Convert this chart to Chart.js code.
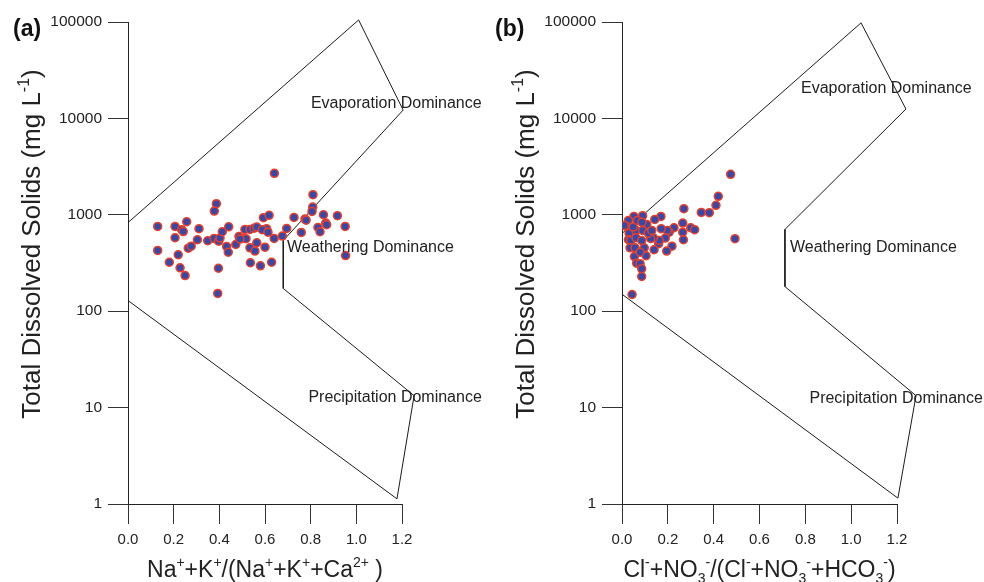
<!DOCTYPE html>
<html><head><meta charset="utf-8">
<script src="https://cdn.jsdelivr.net/npm/chart.js@4.4.1/dist/chart.umd.min.js"></script>
<style>
html,body{margin:0;padding:0;background:#fff;}
#wrap{position:relative;width:984px;height:582px;overflow:hidden;}
canvas{position:absolute;top:0;}
</style></head><body>
<div id="wrap">
<canvas id="ca" width="492" height="582" style="left:0"></canvas>
<canvas id="cb" width="492" height="582" style="left:492px"></canvas>
</div>
<script>
// ---- data ----
const yTicks = [1, 10, 100, 1000, 10000, 100000];
const xTicks = [0, 0.2, 0.4, 0.6, 0.8, 1.0, 1.2];

// (a) Na+K/(Na+K+Ca) vs TDS
const naRatio = [0.130,0.130,0.181,0.206,0.206,0.220,0.228,0.250,0.235,0.242,0.257,0.264,0.277,0.311,0.304,0.349,0.377,0.387,0.378,0.397,0.403,0.413,0.441,0.396,0.393,0.432,0.439,0.472,0.486,0.502,0.517,0.512,0.534,0.552,0.564,0.534,0.556,0.564,0.600,0.536,0.580,0.629,0.593,0.618,0.607,0.588,0.613,0.640,0.641,0.676,0.695,0.727,0.759,0.775,0.780,0.810,0.809,0.806,0.856,0.832,0.841,0.866,0.870,0.917,0.951,0.953,0.490];
const tdsA    = [757,427,322,757,578,385,282,234,700,670,847,451,473,717,551,538,569,1303,1093,533,573,667,751,279,153,470,410,492,597,569,565,705,705,727,745,455,420,513,462,318,296,322,933,987,717,700,661,569,2692,601,722,940,656,903,880,1618,1202,1084,1001,740,667,820,789,978,757,378,560];

// (b) Cl+NO3/(Cl+NO3+HCO3) vs TDS
const clRatio = [0.474,0.420,0.410,0.493,0.346,0.381,0.270,0.265,0.300,0.317,0.265,0.268,0.227,0.206,0.198,0.189,0.218,0.195,0.170,0.143,0.171,0.160,0.140,0.163,0.137,0.125,0.116,0.108,0.090,0.052,0.028,0.035,0.020,0.031,0.028,0.038,0.035,0.057,0.054,0.064,0.079,0.086,0.086,0.105,0.097,0.079,0.061,0.061,0.086,0.090,0.115,0.130,0.049,0.067,0.087,0.044,0.010];
const tdsB    = [2630,1553,1253,565,1059,1051,1156,820,734,700,661,551,734,661,689,573,473,420,962,895,717,501,434,542,578,569,700,794,978,962,875,734,757,645,551,542,455,455,369,315,311,275,229,376,455,410,689,578,542,689,645,689,745,875,839,149,776];

// Gibbs boundary envelopes
const boundAx = [0, 1.01, 1.205, 0.68, 0.68, 1.253, 1.178, 0];
const boundAy = [830, 105000, 12200, 542, 172, 13.3, 1.13, 129];
const boundBx = [0, 1.043, 1.239, 0.711, 0.711, 1.283, 1.204, 0];
const boundBy = [640, 98000, 12500, 705, 180, 13.3, 1.15, 150];

// region labels: [text, x, y(baseline)] in data units
const regionsA = [["Evaporation Dominance", 0.801, 12820], ["Weathering Dominance", 0.696, 411], ["Precipitation Dominance", 0.790, 11.4]];
const regionsB = [["Evaporation Dominance", 0.781, 18300], ["Weathering Dominance", 0.733, 411], ["Precipitation Dominance", 0.818, 11.2]];

const FONT = '"Liberation Sans", Arial, Helvetica, sans-serif';
const yTitle = [["Total Dissolved Solids (mg L",0],["-1",1],[")",0]];
const xTitleA = [["Na",0],["+",1],["+K",0],["+",1],["/(Na",0],["+",1],["+K",0],["+",1],["+Ca",0],["2+",1],[" )",0]];
const xTitleB = [["Cl",0],["-",1],["+NO",0],["3",-1],["-",1],["/(Cl",0],["-",1],["+NO",0],["3",-1],["-",1],["+HCO",0],["3",-1],["-",1],[")",0]];

function partFont(size, mode){ return (mode===0? size : Math.round(size*0.62)) + 'px ' + FONT; }
function richWidth(ctx, parts, size){
  let w=0; for(const [t,m] of parts){ ctx.font=partFont(size,m); w+=ctx.measureText(t).width; } return w;
}
function drawRich(ctx, parts, x, y, size){
  let cx=x;
  ctx.textBaseline='alphabetic'; ctx.textAlign='left';
  for(const [t,m] of parts){
    ctx.font=partFont(size,m);
    const dy = m===1 ? -size*0.42 : (m===-1 ? size*0.28 : 0);
    ctx.fillText(t, cx, y+dy);
    cx += ctx.measureText(t).width;
  }
}

function makeChart(id, xs, ys, bx, by, regions, xTitle, panel, areaLeft, areaRight, panelX){
  const pts = xs.map((v,i)=>({x:v, y:ys[i]}));
  const bnd = bx.map((v,i)=>({x:v, y:by[i]}));
  const W=492, H=582, top=22, bottom=504;
  const deco = {
    id:'deco'+id,
    afterDraw(chart){
      const ctx=chart.ctx, a=chart.chartArea, xs_=chart.scales.x, ys_=chart.scales.y;
      ctx.save();
      ctx.fillStyle='#222';
      ctx.font='16px '+FONT; ctx.textBaseline='alphabetic'; ctx.textAlign='left';
      for(const [t,x,y] of regions){ ctx.fillText(t, xs_.getPixelForValue(x), ys_.getPixelForValue(y)); }
      ctx.fillStyle='#111';
      ctx.font='bold 23px '+FONT;
      ctx.fillText(panel, panelX, 36);
      ctx.fillStyle='#222';
      const xw = richWidth(ctx, xTitle, 23);
      drawRich(ctx, xTitle, (a.left+a.right)/2 - xw/2, 577, 23);
      ctx.save();
      ctx.translate(a.left-88, 0);
      ctx.rotate(-Math.PI/2);
      const yw = richWidth(ctx, yTitle, 26);
      const cy = (a.top+a.bottom)/2 - 19;
      drawRich(ctx, yTitle, -cy - yw/2, 0, 26);
      ctx.restore();
      ctx.restore();
    }
  };
  return new Chart(document.getElementById(id), {
    type:'scatter',
    data:{datasets:[
      {data:pts, order:0, pointRadius:4, pointHoverRadius:4, borderWidth:1.5, backgroundColor:'#3a48a3', borderColor:'#e4412f'},
      {data:bnd, order:1, showLine:true, pointRadius:0, borderColor:'#1a1a1a', borderWidth:1, clip:false, fill:false, tension:0}
    ]},
    options:{
      responsive:false, animation:false, devicePixelRatio:1,
      layout:{padding:{left:0, top:top, right:W-areaRight, bottom:0}},
      plugins:{legend:{display:false}, tooltip:{enabled:false}},
      scales:{
        x:{type:'linear', min:0, max:1.2,
          afterBuildTicks(s){ s.ticks = xTicks.map(v=>({value:v})); },
          afterFit(s){ s.height = H-bottom; },
          grid:{drawOnChartArea:false, drawTicks:true, tickLength:20, color:'#333', lineWidth:1},
          border:{display:true, color:'#222', width:1},
          ticks:{color:'#222', font:{family:FONT, size:15}, padding:7, maxRotation:0, callback:v=>Number(v).toFixed(1)}
        },
        y:{type:'logarithmic', min:1, max:100000,
          afterBuildTicks(s){ s.ticks = yTicks.map(v=>({value:v, major:true})); },
          afterFit(s){ s.width = areaLeft; },
          grid:{drawOnChartArea:false, drawTicks:true, tickLength:20, color:'#333', lineWidth:1},
          border:{display:true, color:'#222', width:1},
          ticks:{color:'#222', font:{family:FONT, size:15.5}, padding:6, autoSkip:false, callback:v=>String(v)}
        }
      }
    },
    plugins:[deco]
  });
}

makeChart('ca', naRatio, tdsA, boundAx, boundAy, regionsA, xTitleA, '(a)', 128, 402, 13);
makeChart('cb', clRatio, tdsB, boundBx, boundBy, regionsB, xTitleB, '(b)', 130, 405, 3);
</script>
</body></html>
